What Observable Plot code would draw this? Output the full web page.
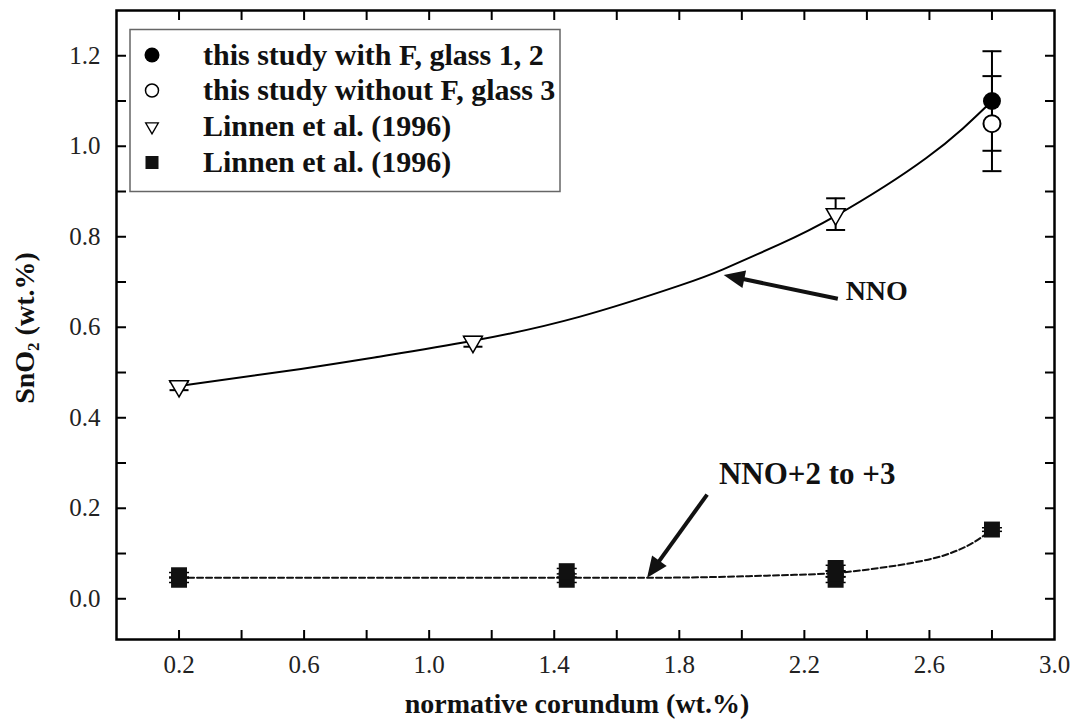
<!DOCTYPE html>
<html><head><meta charset="utf-8">
<script src="https://cdn.jsdelivr.net/npm/d3@7"></script>
<script src="https://cdn.jsdelivr.net/npm/@observablehq/plot@0.6"></script>
<style>
body{margin:0;background:#fff;}
#chart{width:1074px;height:719px;}
#chart svg text{font-family:'Liberation Serif','Times New Roman',serif;}
</style></head><body><div id="chart"></div>
<script>
// ---------- data ----------
const xTicks = [0.2,0.4,0.6,0.8,1.0,1.2,1.4,1.6,1.8,2.0,2.2,2.4,2.6,2.8];
const xLabels = [0.2,0.6,1.0,1.4,1.8,2.2,2.6,3.0];
const yTicks = [0.0,0.1,0.2,0.3,0.4,0.5,0.6,0.7,0.8,0.9,1.0,1.1,1.2];
const yLabels = [0.0,0.2,0.4,0.6,0.8,1.0,1.2];

// NNO fitted curve (solid)
const nnoX = [0.2,0.59,0.84,1.14,1.48,1.80,1.94,2.12,2.30,2.59,2.80];
const nnoY = [0.470,0.508,0.535,0.570,0.623,0.692,0.728,0.783,0.846,0.974,1.100];
// NNO+2 to +3 fitted curve (dashed)
const oxX = [0.2,1.0,1.7,2.12,2.30,2.44,2.55,2.66,2.74,2.80];
const oxY = [0.0465,0.0465,0.0465,0.052,0.057,0.068,0.080,0.099,0.124,0.153];

// this study with F, glass 1, 2
const withFX = [2.8], withFY = [1.10], withFErr = [0.11];
// this study without F, glass 3
const noFX = [2.8], noFY = [1.05], noFErr = [0.105];
// Linnen et al. (1996) triangles
const triX = [0.2,1.14,2.3], triY = [0.470,0.568,0.850], triErr = [0.009,0.011,0.035];
// Linnen et al. (1996) squares
const sqX = [0.2,0.2,1.44,1.44,2.3,2.3,2.3,2.8];
const sqY = [0.042,0.052,0.042,0.061,0.042,0.055,0.068,0.153];
const sqErr = [0.006,0.006,0.006,0.006,0.006,0.006,0.006,0.004];

// annotations
const annText = ["NNO","NNO+2 to +3"];
const annX = [2.332,2.209], annY = [0.680,0.2766];
const arrowTailX = [2.307,1.889], arrowTailY = [0.663,0.2303];
const arrowTipX = [1.942,1.697], arrowTipY = [0.7155,0.0465];

const legendLabels = ["this study with F, glass 1, 2","this study without F, glass 3","Linnen et al. (1996)","Linnen et al. (1996)"];
const xTitle = "normative corundum (wt.%)";

// ---------- build ----------
const W = 1074, H = 719;
const FONT = "'Liberation Serif','Times New Roman',serif";
const base = {
  width: W, height: H,
  marginLeft: 116, marginRight: 20, marginTop: 10, marginBottom: 80,
  x: {domain: [0, 3.0]},
  y: {domain: [-0.09, 1.3]},
  style: {fontFamily: FONT, fontSize: "25px", color: "black", background: "white", overflow: "visible"}
};
const p0 = Plot.plot({...base, marks: [Plot.frame()]});
const sx = p0.scale("x"), sy = p0.scale("y");

const zip = (xs, ys) => xs.map((x, i) => ({x, y: ys[i]}));
const nno = zip(nnoX, nnoY), ox = zip(oxX, oxY);
const errs = (xs, ys, es) => xs.map((x, i) => ({x, y1: ys[i] - es[i], y2: ys[i] + es[i]}));
const caps = (xs, ys, es) => xs.flatMap((x, i) => [{x, y: ys[i] - es[i]}, {x, y: ys[i] + es[i]}]);
const errW = errs(withFX, withFY, withFErr), errN = errs(noFX, noFY, noFErr);
const errT = errs(triX, triY, triErr), errS = errs(sqX, sqY, sqErr);
const capAll = [...caps(withFX, withFY, withFErr), ...caps(noFX, noFY, noFErr), ...caps(triX, triY, triErr)];
const capSq = caps(sqX, sqY, sqErr);

const capSymbol = {draw(ctx) { ctx.moveTo(-9.5, 0); ctx.lineTo(9.5, 0); }};
const capSymbolSm = {draw(ctx) { ctx.moveTo(-10, 0); ctx.lineTo(10, 0); }};
const headSymbol = {draw(ctx) { ctx.moveTo(0, 0); ctx.lineTo(-9, 21); ctx.lineTo(9, 21); ctx.closePath(); }};

const arrows = arrowTipX.map((tx, i) => {
  const px1 = sx.apply(arrowTailX[i]), py1 = sy.apply(arrowTailY[i]);
  const px2 = sx.apply(tx), py2 = sy.apply(arrowTipY[i]);
  const dx = px2 - px1, dy = py2 - py1, len = Math.hypot(dx, dy);
  const bx = px2 - dx / len * 15, by = py2 - dy / len * 15;
  return {
    x1: arrowTailX[i], y1: arrowTailY[i],
    x2: sx.invert(bx), y2: sy.invert(by),
    tx, ty: arrowTipY[i],
    rot: Math.atan2(dx, -dy) * 180 / Math.PI
  };
});
const ann0 = [{t: annText[0], x: annX[0], y: annY[0]}];
const ann1 = [{t: annText[1], x: annX[1], y: annY[1]}];
const tickFont = {fontSize: 25, fontFamily: FONT, fill: "#222"};

const plot = Plot.plot({
  ...base,
  marks: [
    Plot.line(nno, {x: "x", y: "y", curve: "natural", stroke: "black", strokeWidth: 2}),
    Plot.line(ox, {x: "x", y: "y", curve: "monotone-x", stroke: "#111", strokeWidth: 2, strokeDasharray: "6,3"}),
    // error bars
    Plot.ruleX([...errW, ...errN, ...errT], {x: "x", y1: "y1", y2: "y2", stroke: "black", strokeWidth: 2}),
    Plot.dot(capAll, {x: "x", y: "y", symbol: capSymbol, stroke: "black", strokeWidth: 2, fill: "none", r: 5}),
    Plot.ruleX(errS, {x: "x", y1: "y1", y2: "y2", stroke: "black", strokeWidth: 2}),
    Plot.dot(capSq, {x: "x", y: "y", symbol: capSymbolSm, stroke: "black", strokeWidth: 1.5, fill: "none", r: 5}),
    // points
    Plot.dot(zip(sqX, sqY), {x: "x", y: "y", symbol: "square", r: 9, fill: "#111", stroke: "none"}),
    Plot.dot(zip(triX, triY), {x: "x", y: "y", symbol: "triangle", rotate: 180, r: 7, fill: "white", stroke: "black", strokeWidth: 1.5}),
    Plot.dot(zip(noFX, noFY), {x: "x", y: "y", r: 8.5, fill: "white", stroke: "black", strokeWidth: 2}),
    Plot.dot(zip(withFX, withFY), {x: "x", y: "y", r: 9, fill: "black", stroke: "none"}),
    // arrows
    Plot.link(arrows, {x1: "x1", y1: "y1", x2: "x2", y2: "y2", stroke: "#111", strokeWidth: 4}),
    Plot.dot(arrows, {x: "tx", y: "ty", symbol: headSymbol, rotate: "rot", fill: "#111", stroke: "none", r: 5}),
    // annotations
    Plot.text(ann0, {x: "x", y: "y", text: "t", textAnchor: "start", lineAnchor: "middle", fontSize: 28, fontWeight: "bold", fontFamily: FONT, fill: "#111"}),
    Plot.text(ann1, {x: "x", y: "y", text: "t", textAnchor: "middle", lineAnchor: "middle", fontSize: 31, fontWeight: "bold", fontFamily: FONT, fill: "#111"}),
    // axes
    Plot.frame({stroke: "black", strokeWidth: 2.5}),
    Plot.axisX(xTicks, {anchor: "bottom", tickSize: -9, tickFormat: () => "", label: null, strokeWidth: 2}),
    Plot.axisX(xTicks, {anchor: "top", tickSize: -9, tickFormat: () => "", label: null, strokeWidth: 2}),
    Plot.axisX(xLabels, {anchor: "bottom", tickSize: 0, tickPadding: 16, tickFormat: d3.format(".1f"), label: null, ...tickFont}),
    Plot.axisY(yTicks, {anchor: "left", tickSize: -10, tickFormat: () => "", label: null, strokeWidth: 2}),
    Plot.axisY(yTicks, {anchor: "right", tickSize: -10, tickFormat: () => "", label: null, strokeWidth: 2}),
    Plot.axisY(yLabels, {anchor: "left", tickSize: 0, tickPadding: 16, tickFormat: d3.format(".1f"), label: null, ...tickFont})
  ]
});

const svg = d3.select(plot);
// axis titles
svg.append("text").attr("x", 577).attr("y", 713).attr("text-anchor", "middle")
  .attr("font-family", FONT).attr("font-size", 28).attr("font-weight", "bold").attr("fill", "#111").text(xTitle);
const yt = svg.append("text").attr("transform", "translate(34,328) rotate(-90)").attr("text-anchor", "middle")
  .attr("font-family", FONT).attr("font-size", 28).attr("font-weight", "bold").attr("fill", "#111");
yt.append("tspan").text("SnO");
yt.append("tspan").attr("font-size", 17).attr("dy", 5).text("2");
yt.append("tspan").attr("dy", -5).text(" (wt.%)");

// legend
const lg = svg.append("g");
lg.append("rect").attr("x", 130).attr("y", 29.5).attr("width", 430).attr("height", 162)
  .attr("fill", "white").attr("stroke", "#666").attr("stroke-width", 1.5);
const rows = [55, 90.5, 126.5, 162.5];
const symX = 152;
lg.append("circle").attr("cx", symX).attr("cy", rows[0]).attr("r", 7.5).attr("fill", "black");
lg.append("circle").attr("cx", symX).attr("cy", rows[1]).attr("r", 6.5).attr("fill", "white").attr("stroke", "black").attr("stroke-width", 1.5);
lg.append("path").attr("d", d3.symbol(d3.symbolTriangle, 70)()).attr("transform", `translate(${symX},${rows[2]}) rotate(180)`)
  .attr("fill", "white").attr("stroke", "black").attr("stroke-width", 1.3);
lg.append("rect").attr("x", symX - 6.5).attr("y", rows[3] - 6.5).attr("width", 13).attr("height", 13).attr("fill", "#111");
legendLabels.forEach((t, i) => {
  lg.append("text").attr("x", 203).attr("y", rows[i] + 9.5).attr("text-anchor", "start").attr("font-family", FONT).attr("font-size", 30)
    .attr("font-weight", "bold").attr("fill", "#111").text(t);
});

document.getElementById("chart").appendChild(plot);
</script>
</body></html>
